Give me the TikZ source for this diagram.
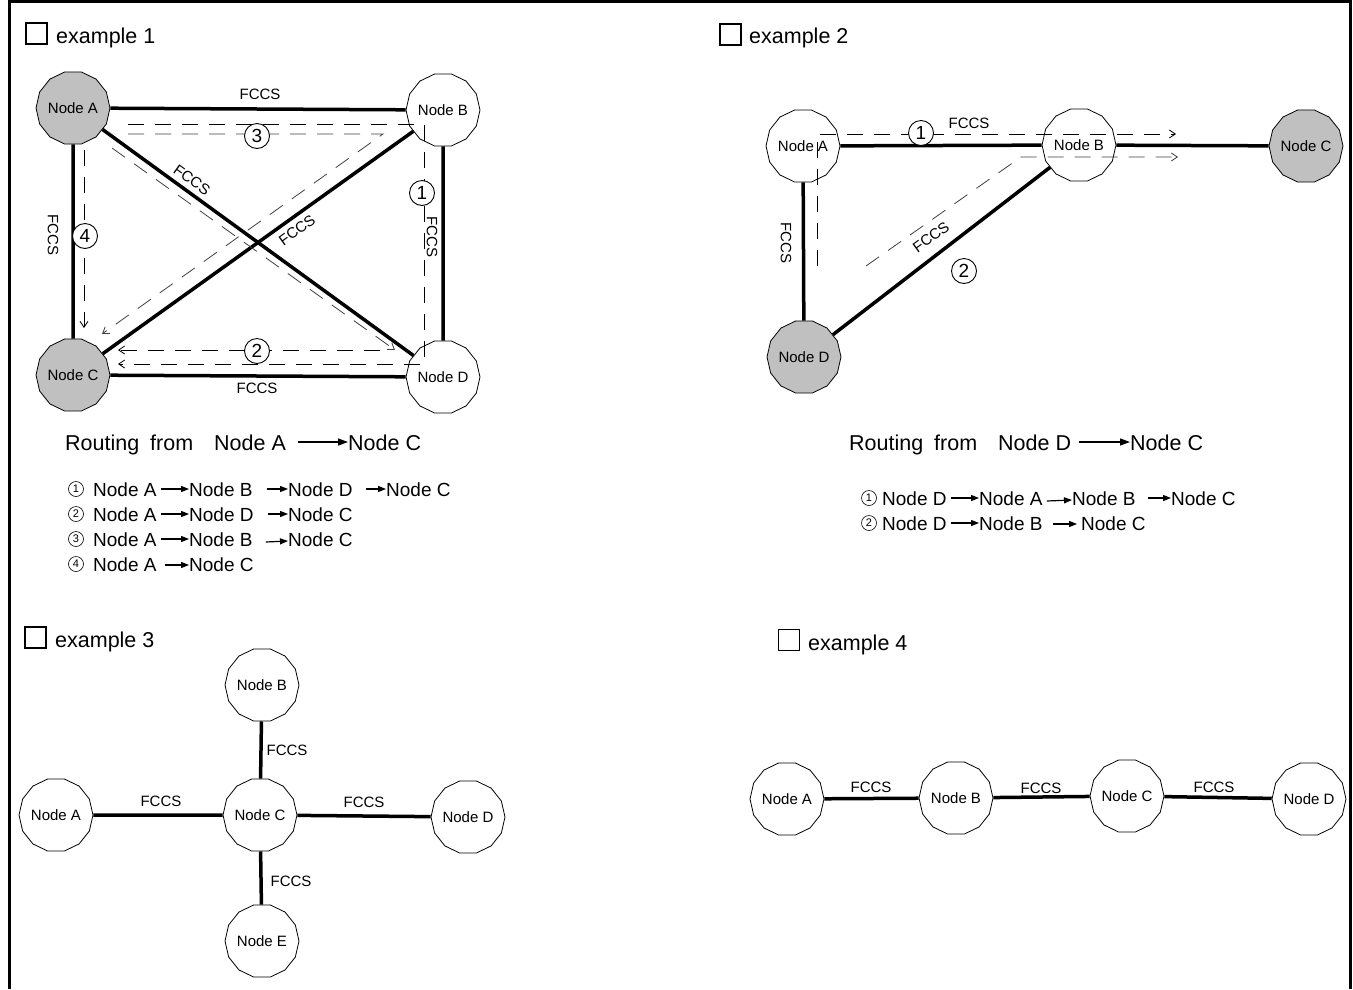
\documentclass[tikz,border=0pt]{standalone}
\usepackage{fontspec}
\setmainfont{Liberation Sans}
\usetikzlibrary{shapes.geometric,arrows.meta,calc}
\definecolor{nodegray}{RGB}{192,192,192}
\newcommand\rsNodeFont{\fontsize{15}{16}\selectfont}
\newcommand\rsTitleFont{\fontsize{21.5}{24}\selectfont}
\newcommand\rsListFont{\fontsize{19}{22}\selectfont}
\newcommand\rsRouteFont{\fontsize{21.5}{24}\selectfont}
\newcommand\rsNumFont{\fontsize{19}{20}\selectfont}
\newcommand\rsSNumFont{\fontsize{11}{12}\selectfont}
\begin{document}
\begin{tikzpicture}[x=1pt,y=-1pt,
  nd/.style={regular polygon, regular polygon sides=14, draw, line width=0.8pt,
             minimum size=74pt, inner sep=0pt, fill=white, font=\rsNodeFont},
  ndg/.style={nd, fill=nodegray},
  link/.style={line width=3.5pt},
  route/.style={dash pattern=on 16pt off 11pt, line width=0.8pt},
  rtip/.style={-{Straight Barb[length=6pt,width=8pt,line width=0.8pt]}},
  lab/.style={font=\rsNodeFont, inner sep=0pt},
  num/.style={circle, draw, line width=0.9pt, minimum size=25pt, inner sep=0pt,
              fill=white, font=\rsNumFont},
  snum/.style={circle, draw, line width=0.6pt, minimum size=15pt, inner sep=0pt,
               font=\rsSNumFont},
  chk/.style={draw, line width=1.1pt, minimum size=21pt, inner sep=0pt},
  ttl/.style={font=\rsTitleFont, anchor=base west, inner sep=0pt},
  word/.style={font=\rsListFont, anchor=base west, inner sep=0pt},
  rword/.style={font=\rsRouteFont, anchor=base west, inner sep=0pt},
  larr/.style={line width=1.2pt, -{Triangle[length=8pt,width=6pt]}},
  rarr/.style={line width=1.3pt, -{Triangle[length=10pt,width=7pt]}}
]
\useasboundingbox (0,0) rectangle (1353,989);
% frame
\draw[line width=3pt] (9,989) -- (9,1.5) -- (1350.5,1.5) -- (1350.5,989);

% ================= example 1 =================
\node[chk] (k1) at (36.5,33.5) {};
\node[ttl] (t1) at (56,43) {example 1};

\node[ndg] (a1) at (73,108) {Node A};
\node[nd]  (b1) at (443,110) {Node B};
\node[ndg] (c1) at (73,375) {Node C};
\node[nd]  (d1) at (443,377) {Node D};
\draw[link] (a1) -- (b1);
\draw[link] (c1) -- (d1);
\draw[link] (a1) -- (c1);
\draw[link] (b1) -- (d1);
\draw[link] (a1) -- (d1);
\draw[link] (b1) -- (c1);

\node[lab] (l1a) at (260,94) {FCCS};
\node[lab] (l1b) at (257,388) {FCCS};
\node[lab,rotate=-90] (l1c) at (53,235) {FCCS};
\node[lab,rotate=-90] (l1d) at (432,237) {FCCS};
\node[lab,rotate=-35.5] (l1e) at (192,180) {FCCS};
\node[lab,rotate=36] (l1f) at (297,230) {FCCS};

% routes
\coordinate (r1s) at (128,124); \coordinate (r1a) at (424,124);
\coordinate (r1b) at (424,364); \coordinate (r1e) at (118,364);
\draw[route,rtip] (r1s) -- (r1a) -- (r1b) -- (r1e);
\coordinate (r3s) at (128,134); \coordinate (r3a) at (383,134);
\coordinate (r3e) at (102,334);
\draw[route,rtip,black!75] (r3s) -- (r3a) -- (r3e);
\coordinate (r2s) at (112,148); \coordinate (r2a) at (395,350);
\draw[route,rtip,black!75] (r2s) -- (r2a);
\coordinate (r2b) at (380,350); \coordinate (r2e) at (118,350);
\draw[route,rtip] (r2b) -- (r2e);
\coordinate (r4s) at (84,150); \coordinate (r4e) at (84,328);
\draw[route,rtip] (r4s) -- (r4e);

\node[num] (n13) at (257,136) {3};
\node[num] (n11) at (422,193) {1};
\node[num] (n14) at (85,236) {4};
\node[num] (n12) at (257,351) {2};

% routing text
\node[rword] (ra1) at (65,450) {Routing};
\node[rword] (ra2) at (150,450) {from};
\node[rword] (ra3) at (214,450) {Node A};
\node[rword] (ra4) at (348,450) {Node C};
\draw[rarr] ($(ra3.base east)+(12,-8)$) -- ($(ra4.base west)+(0,-8)$);

% list
\node[snum] (s11) at (76,489) {1};
\node[word] (w11) at (93,496) {Node A};
\node[word] (w12) at (189,496) {Node B};
\node[word] (w13) at (288,496) {Node D};
\node[word] (w14) at (386,496) {Node C};
\draw[larr] ($(w11.base east)+(4,-7)$) -- ($(w12.base west)+(0,-7)$);
\draw[larr] ($(w12.base east)+(14,-7)$) -- ($(w13.base west)+(0,-7)$);
\draw[larr] ($(w13.base east)+(13,-7)$) -- ($(w14.base west)+(0,-7)$);

\node[snum] (s12) at (76,514) {2};
\node[word] (w21) at (93,521) {Node A};
\node[word] (w22) at (189,521) {Node D};
\node[word] (w23) at (288,521) {Node C};
\draw[larr] ($(w21.base east)+(4,-7)$) -- ($(w22.base west)+(0,-7)$);
\draw[larr] ($(w22.base east)+(14,-7)$) -- ($(w23.base west)+(0,-7)$);

\node[snum] (s13) at (76,539) {3};
\node[word] (w31) at (93,546) {Node A};
\node[word] (w32) at (189,546) {Node B};
\node[word] (w33) at (288,546) {Node C};
\draw[larr] ($(w31.base east)+(4,-7)$) -- ($(w32.base west)+(0,-7)$);
\draw[larr] ($(w32.base east)+(13,-4)$) -- ($(w33.base west)+(0,-5)$);

\node[snum] (s14) at (76,564) {4};
\node[word] (w41) at (93,571) {Node A};
\node[word] (w42) at (189,571) {Node C};
\draw[larr] ($(w41.base east)+(8,-6)$) -- ($(w42.base west)+(0,-6)$);

% ================= example 2 =================
\node[chk] (k2) at (730.5,34.5) {};
\node[ttl] (t2) at (749,43) {example 2};

\node[nd]  (a2) at (803,146) {Node A};
\node[nd]  (b2) at (1079,145) {Node B};
\node[ndg] (c2) at (1306,146) {Node C};
\node[ndg] (d2) at (804,357) {Node D};
\draw[link] (a2) -- (b2);
\draw[link] (b2) -- (c2);
\draw[link] (a2) -- (d2);
\draw[link] (d2) -- (b2);

\node[lab] (l2a) at (969,123) {FCCS};
\node[lab,rotate=-90] (l2b) at (786,243) {FCCS};
\node[lab,rotate=36] (l2c) at (931,237) {FCCS};

\coordinate (q1s) at (817,266); \coordinate (q1a) at (817,134);
\coordinate (q1e) at (1176,134);
\draw[route,rtip] (q1s) -- (q1a) -- (q1e);
\coordinate (q2s) at (866,266); \coordinate (q2a) at (1021,157);
\coordinate (q2e) at (1178,157);
\draw[route,rtip,black!75] (q2s) -- (q2a) -- (q2e);

\node[num] (n21) at (921,133) {1};
\node[num] (n22) at (964,271) {2};

\node[rword] (rb1) at (849,450) {Routing};
\node[rword] (rb2) at (934,450) {from};
\node[rword] (rb3) at (998,450) {Node D};
\node[rword] (rb4) at (1130,450) {Node C};
\draw[rarr] ($(rb3.base east)+(8,-8)$) -- ($(rb4.base west)+(0,-8)$);

\node[snum] (s21) at (869,498) {1};
\node[word] (v11) at (882,505) {Node D};
\node[word] (v12) at (979,505) {Node A};
\node[word] (v13) at (1072,505) {Node B};
\node[word] (v14) at (1171,505) {Node C};
\draw[larr] ($(v11.base east)+(4,-7)$) -- ($(v12.base west)+(0,-7)$);
\draw[larr] ($(v12.base east)+(4,-4)$) -- ($(v13.base west)+(0,-5)$);
\draw[larr] ($(v13.base east)+(12,-7)$) -- ($(v14.base west)+(0,-7)$);

\node[snum] (s22) at (869,523) {2};
\node[word] (v21) at (882,530) {Node D};
\node[word] (v22) at (979,530) {Node B};
\node[word] (v23) at (1081,530) {Node C};
\draw[larr] ($(v21.base east)+(4,-7)$) -- ($(v22.base west)+(0,-7)$);
\draw[larr] ($(v22.base east)+(10,-6)$) -- ($(v23.base west)+(-4,-6)$);

% ================= example 3 =================
\node[chk] (k3) at (35.5,637.5) {};
\node[ttl] (t3) at (55,647) {example 3};

\node[nd] (b3) at (262,685) {Node B};
\node[nd] (c3) at (260,815) {Node C};
\node[nd] (a3) at (56,815) {Node A};
\node[nd] (d3) at (468,817) {Node D};
\node[nd] (e3) at (262,941) {Node E};
\draw[link] (b3) -- (c3);
\draw[link] (a3) -- (c3);
\draw[link] (c3) -- (d3);
\draw[link] (c3) -- (e3);

\node[lab] (l3a) at (287,750) {FCCS};
\node[lab] (l3b) at (161,801) {FCCS};
\node[lab] (l3c) at (364,802) {FCCS};
\node[lab] (l3d) at (291,881) {FCCS};

% ================= example 4 =================
\node[chk] (k4) at (789,640) {};
\node[ttl] (t4) at (808,650) {example 4};

\node[nd] (a4) at (787,799) {Node A};
\node[nd] (b4) at (956,798) {Node B};
\node[nd] (c4) at (1127,796) {Node C};
\node[nd] (d4) at (1309,799) {Node D};
\draw[link] (a4) -- (b4);
\draw[link] (b4) -- (c4);
\draw[link] (c4) -- (d4);

\node[lab] (l4a) at (871,787) {FCCS};
\node[lab] (l4b) at (1041,788) {FCCS};
\node[lab] (l4c) at (1214,787) {FCCS};
\end{tikzpicture}
\end{document}
